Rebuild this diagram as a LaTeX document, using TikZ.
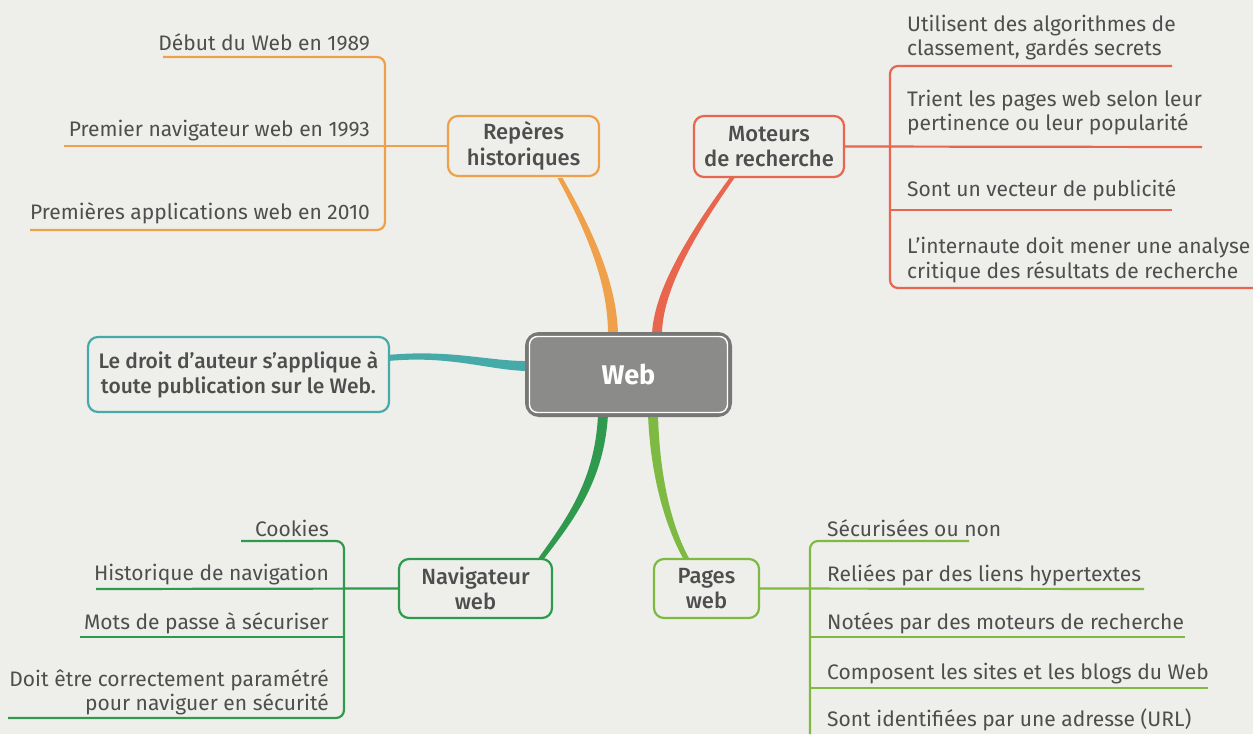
\documentclass[tikz,border=0pt]{standalone}
\usepackage{fontspec}
\setmainfont{Fira Sans}
\newfontfamily\medfont{Fira Sans Medium}
\usetikzlibrary{calc}
\definecolor{bg}{HTML}{EEEFEB}
\definecolor{txt}{HTML}{4E4E4E}
\definecolor{orangeC}{HTML}{EEA04A}
\definecolor{redC}{HTML}{E8664E}
\definecolor{tealC}{HTML}{45AAA8}
\definecolor{dgreenC}{HTML}{2F9A4E}
\definecolor{lgreenC}{HTML}{7EBA42}
\definecolor{webfill}{HTML}{8B8C89}
\definecolor{webdraw}{HTML}{777875}
\begin{document}
\begin{tikzpicture}[x=1pt,y=-1pt,
  leaf/.style={text=txt, font=\fontsize{21}{24.5}\selectfont, inner sep=0pt},
  leafL/.style={leaf, anchor=east, align=right},
  leafR/.style={leaf, anchor=west, align=left},
  branch/.style={draw, line width=2.2pt, rounded corners=10pt, fill=bg, text=txt,
    font=\fontsize{22}{25.5}\medfont, align=center, inner sep=0pt},
  webbox/.style={draw=webdraw, line width=4pt, rounded corners=12pt, fill=webfill,
    text=white, font=\fontsize{27}{30}\selectfont\bfseries, inner sep=0pt,
    minimum width=203pt, minimum height=81pt},
  ul/.style={line width=2.2pt, rounded corners=8pt}]
\useasboundingbox[fill=bg] (0,0) rectangle (1253,734);

% ---- curved connectors (drawn first) ----
\fill[orangeC] (557.5,178) .. controls (591.5,240) and (608.5,290) .. (608,336)
  -- (618,336) .. controls (617.5,290) and (598.5,240) .. (562.5,178) -- cycle;
\fill[redC] (729.5,178) .. controls (676.5,250) and (652.5,300) .. (652,336)
  -- (662,336) .. controls (661.5,300) and (683.5,250) .. (734.5,178) -- cycle;
\fill[dgreenC] (537,560) .. controls (566,520) and (595.5,480) .. (598,414)
  -- (608,414) .. controls (604.5,480) and (574,520) .. (543,560) -- cycle;
\fill[lgreenC] (684,560) .. controls (667,530) and (650.5,480) .. (648,414)
  -- (658,414) .. controls (659.5,480) and (673,530) .. (690,560) -- cycle;
\fill[tealC] (388,355) .. controls (450,349) and (490,361.5) .. (528,361)
  -- (528,371) .. controls (490,370.5) and (450,355) .. (388,361) -- cycle;

% ---- boxes ----
\node[webbox] (web) at (628.5,374.5) {Web};
\draw[white, line width=1.4pt, rounded corners=8pt]
  ([shift={(4.5,4.5)}]web.north west) rectangle ([shift={(-4.5,-4.5)}]web.south east);
\node[branch, draw=orangeC, minimum width=151pt, minimum height=60pt] (rep) at (523.5,146) {Repères\\historiques};
\node[branch, draw=redC, minimum width=150pt, minimum height=61pt] (mot) at (769,146.5) {Moteurs\\de recherche};
\node[branch, draw=tealC, minimum width=301pt, minimum height=75pt,
  font=\fontsize{21}{25.5}\medfont] (droit) at (238.5,374.5) {Le droit d’auteur s’applique à\\toute publication sur le Web.};
\node[branch, draw=dgreenC, minimum width=153pt, minimum height=59pt] (nav) at (475.5,588.5) {Navigateur\\web};
\node[branch, draw=lgreenC, minimum width=105pt, minimum height=59pt] (pag) at (706.5,588.5) {Pages\\web};

% ---- Repères historiques ----
\node[leafL] (deb) at (370,42) {Début du Web en 1989};
\node[leafL] (pre) at (370,131) {Premier navigateur web en 1993};
\node[leafL] (app) at (370,213) {Premières applications web en 2010};
\coordinate (o1) at (163,57); \coordinate (oc1) at (385,57);
\coordinate (oc2) at (385,230); \coordinate (o3) at (30,230);
\coordinate (o2) at (64,146);
\draw[ul, orangeC] (o1) -- (oc1) -- (oc2) -- (o3);
\draw[ul, orangeC] (o2) -- (rep.west);

% ---- Moteurs de recherche ----
\node[leafR] (uti) at (907,37.5) {Utilisent des algorithmes de\\classement, gardés secrets};
\node[leafR] (tri) at (907,112.5) {Trient les pages web selon leur\\pertinence ou leur popularité};
\node[leafR] (vec) at (907,190) {Sont un vecteur de publicité};
\node[leafR] (int) at (907,260) {L’internaute doit mener une analyse\\critique des résultats de recherche};
\coordinate (r1) at (1172,66); \coordinate (rc1) at (890,66);
\coordinate (rc2) at (890,288); \coordinate (r4) at (1253,288);
\coordinate (r2) at (1202,147);
\coordinate (r3a) at (890,210); \coordinate (r3) at (1172,210);
\draw[ul, redC] (r1) -- (rc1) -- (rc2) -- (r4);
\draw[ul, redC] (mot.east) -- (r2);
\draw[ul, redC] (r3a) -- (r3);

% ---- Navigateur web ----
\node[leafL] (coo) at (329,528) {Cookies};
\node[leafL] (his) at (329,575) {Historique de navigation};
\node[leafL] (mdp) at (329,623) {Mots de passe à sécuriser};
\node[leafL] (doi) at (329,692.5) {Doit être correctement paramétré\\pour naviguer en sécurité};
\coordinate (n1) at (241,541); \coordinate (nc1) at (344,541);
\coordinate (nc2) at (344,718); \coordinate (n4) at (8,718);
\coordinate (n2) at (96,589);
\coordinate (n3) at (80,637); \coordinate (n3b) at (344,637);
\draw[ul, dgreenC] (n1) -- (nc1) -- (nc2) -- (n4);
\draw[ul, dgreenC] (n2) -- (nav.west);
\draw[ul, dgreenC] (n3) -- (n3b);

% ---- Pages web ----
\node[leafR] (sec) at (827,528) {Sécurisées ou non};
\node[leafR] (rel) at (827,575) {Reliées par des liens hypertextes};
\node[leafR] (not) at (827,623) {Notées par des moteurs de recherche};
\node[leafR] (com) at (827,674) {Composent les sites et les blogs du Web};
\node[leafR] (ide) at (827,720) {Sont identifiées par une adresse (URL)};
\coordinate (p1) at (969,541); \coordinate (pc1) at (810,541);
\coordinate (pc2) at (810,734);
\coordinate (p2) at (1144,589);
\coordinate (p3a) at (810,637); \coordinate (p3) at (1185,637);
\coordinate (p4a) at (810,688); \coordinate (p4) at (1208,688);
\draw[ul, lgreenC] (p1) -- (pc1) -- (pc2);
\draw[ul, lgreenC] (pag.east) -- (p2);
\draw[ul, lgreenC] (p3a) -- (p3);
\draw[ul, lgreenC] (p4a) -- (p4);
\end{tikzpicture}
\end{document}
